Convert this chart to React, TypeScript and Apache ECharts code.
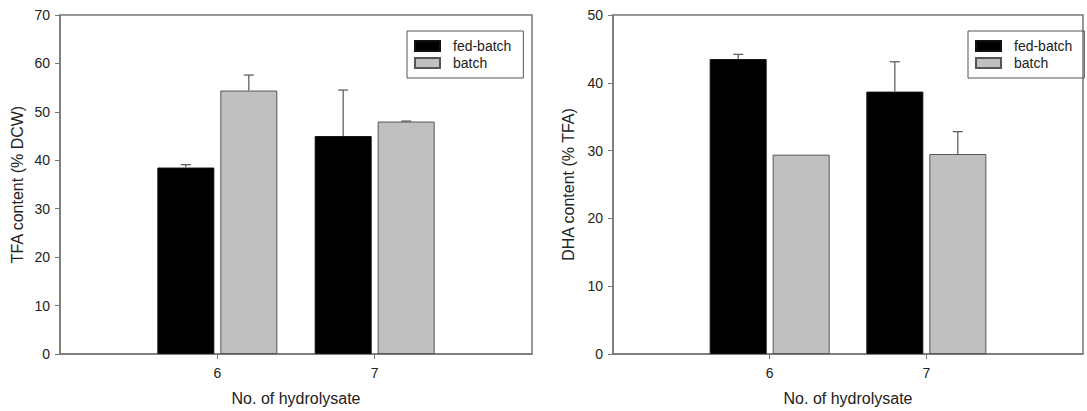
import React, { useEffect, useRef } from "react";
import * as echarts from "echarts";

// Hydrolysate numbers shown on the x axes
const categories = ["6", "7"];
const seriesNames = ["fed-batch", "batch"];

// TFA content (% DCW)
const tfaFedBatch = [38.5, 45.0];
const tfaFedBatchErr = [0.6, 9.5];
const tfaBatch = [54.4, 48.0];
const tfaBatchErr = [3.2, 0.1];

// DHA content (% TFA)
const dhaFedBatch = [43.5, 38.7];
const dhaFedBatchErr = [0.7, 4.4];
const dhaBatch = [29.4, 29.5];
const dhaBatchErr = [0, 3.3];

const tfaAxis = { min: 0, max: 70, interval: 10 };
const dhaAxis = { min: 0, max: 50, interval: 10 };

const FONT = '"Liberation Sans", Arial, sans-serif';
const TEXT = "#222";
const AXIS = "#777";
const BAR_W = 57;
const BAR_GAP = 6;
const HALF = (BAR_W + BAR_GAP) / 2;

// the x axes run one empty slot beyond each side of the categories
const axisCats = ["", ...categories, ""];
const pad = (vals: number[]) => ["-", ...vals, "-"];
const errData = (vals: number[], errs: number[]) =>
  vals.map((v, i) => [i + 1, v, errs[i]]);

const errRender = (offset: number) => (params: any, api: any) => {
  const idx = api.value(0);
  const v = api.value(1);
  const e = api.value(2);
  if (!e) return null;
  const p0 = api.coord([idx, v]);
  const p1 = api.coord([idx, v + e]);
  const x = p0[0] + offset;
  const style = { stroke: "#555", lineWidth: 1.2 };
  return {
    type: "group",
    children: [
      { type: "line", shape: { x1: x, y1: p0[1], x2: x, y2: p1[1] }, style },
      { type: "line", shape: { x1: x - 5, y1: p1[1], x2: x + 5, y2: p1[1] }, style },
    ],
  };
};

const tickShown = (index: number) => index > 0 && index <= categories.length;

const makeX = (gridIndex: number) => ({
  type: "category",
  gridIndex,
  data: axisCats,
  boundaryGap: false,
  name: "No. of hydrolysate",
  nameLocation: "middle",
  nameGap: 36,
  nameTextStyle: { fontFamily: FONT, fontSize: 16, color: TEXT },
  axisLine: { lineStyle: { color: AXIS, width: 1.5 } },
  axisTick: { interval: tickShown, length: 5, lineStyle: { color: AXIS } },
  axisLabel: { interval: 0, margin: 12, fontFamily: FONT, fontSize: 14, color: TEXT },
  splitLine: { show: false },
});

const makeY = (gridIndex: number, name: string, range: any, gap: number) => ({
  type: "value",
  gridIndex,
  ...range,
  name,
  nameLocation: "middle",
  nameGap: gap,
  nameTextStyle: { fontFamily: FONT, fontSize: 16, color: TEXT },
  axisLine: { show: true, lineStyle: { color: AXIS, width: 1.5 } },
  axisTick: { show: true, length: 5, lineStyle: { color: AXIS } },
  axisLabel: { margin: 10, fontFamily: FONT, fontSize: 14, color: TEXT },
  splitLine: { show: false },
});

const fedStyle = { color: "#000", borderColor: "#111", borderWidth: 1 };
const batchStyle = { color: "#c0c0c0", borderColor: "#555", borderWidth: 1 };

const barSeries = (name: string, data: number[], axis: number, style: any) => ({
  type: "bar",
  name,
  xAxisIndex: axis,
  yAxisIndex: axis,
  data: pad(data),
  barWidth: BAR_W,
  barGap: `${((BAR_GAP / BAR_W) * 100).toFixed(1)}%`,
  itemStyle: style,
});

const errSeries = (name: string, vals: number[], errs: number[], axis: number, offset: number) => ({
  type: "custom",
  name,
  xAxisIndex: axis,
  yAxisIndex: axis,
  data: errData(vals, errs),
  encode: { x: 0, y: 1 },
  renderItem: errRender(offset),
  z: 3,
});

const makeLegend = (left: number) => ({
  left,
  top: 31,
  orient: "vertical",
  icon: "rect",
  itemWidth: 25,
  itemHeight: 10,
  itemGap: 3,
  padding: [8, 12, 8, 7],
  borderColor: "#555",
  borderWidth: 1,
  selectedMode: false,
  data: seriesNames,
  textStyle: { fontFamily: FONT, fontSize: 14, color: TEXT, padding: [0, 0, 0, 8] },
});

export default function App() {
  const ref = useRef<HTMLDivElement>(null);

  useEffect(() => {
    if (!ref.current) return;
    const chart = echarts.init(ref.current, undefined, { renderer: "svg" });
    chart.setOption({
      animation: false,
      backgroundColor: "#fff",
      textStyle: { fontFamily: FONT },
      grid: [
        { left: 60, top: 15, width: 472, height: 340, show: true, borderColor: AXIS, borderWidth: 1.5 },
        { left: 613, top: 15, width: 470, height: 340, show: true, borderColor: AXIS, borderWidth: 1.5 },
      ],
      legend: [makeLegend(407), makeLegend(968)],
      xAxis: [makeX(0), makeX(1)],
      yAxis: [
        makeY(0, "TFA content (% DCW)", tfaAxis, 35),
        makeY(1, "DHA content (% TFA)", dhaAxis, 37),
      ],
      series: [
        barSeries(seriesNames[0], tfaFedBatch, 0, fedStyle),
        barSeries(seriesNames[1], tfaBatch, 0, batchStyle),
        errSeries("tfa-fed-err", tfaFedBatch, tfaFedBatchErr, 0, -HALF),
        errSeries("tfa-batch-err", tfaBatch, tfaBatchErr, 0, HALF),
        barSeries(seriesNames[0], dhaFedBatch, 1, fedStyle),
        barSeries(seriesNames[1], dhaBatch, 1, batchStyle),
        errSeries("dha-fed-err", dhaFedBatch, dhaFedBatchErr, 1, -HALF),
        errSeries("dha-batch-err", dhaBatch, dhaBatchErr, 1, HALF),
      ],
    });
    return () => chart.dispose();
  }, []);

  return (
    <div
      ref={ref}
      style={{ position: "absolute", left: 0, top: 0, width: 1087, height: 411, background: "#fff" }}
    />
  );
}
